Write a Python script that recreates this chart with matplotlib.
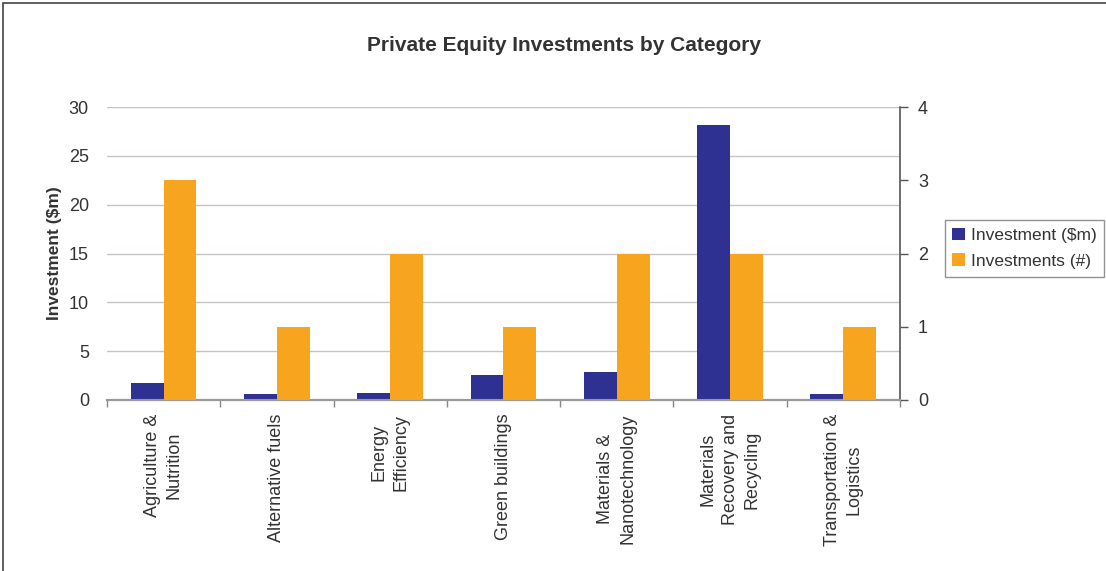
import matplotlib.pyplot as plt
from matplotlib.patches import Rectangle

plt.rcParams['font.family'] = ['Liberation Sans', 'DejaVu Sans']

categories = ['Agriculture &\nNutrition', 'Alternative fuels', 'Energy\nEfficiency',
              'Green buildings', 'Materials &\nNanotechnology',
              'Materials\nRecovery and\nRecycling', 'Transportation &\nLogistics']
investment_m = [1.7, 0.6, 0.7, 2.6, 2.9, 28.2, 0.6]
investment_n = [3, 1, 2, 1, 2, 2, 1]

blue = '#2E3192'
orange = '#F7A51E'
text_col = '#333333'

fig = plt.figure(figsize=(11.06, 5.71), dpi=100)
ax = fig.add_axes([0.0967, 0.2995, 0.717, 0.513])
ax2 = ax.twinx()

x = list(range(len(categories)))
w = 0.29
ax.bar([i - w / 2 for i in x], investment_m, width=w, color=blue,
       label='Investment ($m)', zorder=3)
ax2.bar([i + w / 2 for i in x], investment_n, width=w, color=orange,
        label='Investments (#)', zorder=3)

ax.set_xlim(-0.5, len(categories) - 0.5)
ax.set_ylim(0, 30)
ax2.set_ylim(0, 4)
ax.set_yticks(range(0, 31, 5))
ax2.set_yticks(range(0, 5))

ax.yaxis.grid(True, color='#C9C2C2', linewidth=1.0)
ax.set_axisbelow(True)

for a in (ax, ax2):
    for side in ('top', 'left', 'right'):
        a.spines[side].set_visible(False)
    a.spines['bottom'].set_color('#999999')
    a.spines['bottom'].set_linewidth(1.5)
ax2.spines['right'].set_visible(True)
ax2.spines['right'].set_color('#555555')
ax2.spines['right'].set_linewidth(1.2)

ax.tick_params(axis='y', length=0, pad=13, labelsize=13, labelcolor=text_col)
ax2.tick_params(axis='y', length=6, width=1, color='#555555', pad=7,
                labelsize=13, labelcolor=text_col)

# category labels on major ticks, tick marks between categories
ax.set_xticks(x)
ax.set_xticklabels(categories, rotation=90, ha='center', va='top',
                   multialignment='center', fontsize=13, color=text_col,
                   linespacing=1.35)
ax.set_xticks([i + 0.5 for i in range(-1, len(categories))], minor=True)
ax.tick_params(axis='x', which='major', length=0, pad=10)
ax.tick_params(axis='x', which='minor', length=5, width=1, color='#888888')

ax.set_ylabel('Investment ($m)', fontsize=12.5, fontweight='bold', color=text_col,
              labelpad=5)

fig.text(0.51, 0.92, 'Private Equity Investments by Category', ha='center',
         va='center', fontsize=15, fontweight='bold', color=text_col)

h1, l1 = ax.get_legend_handles_labels()
h2, l2 = ax2.get_legend_handles_labels()
leg = fig.legend(h1 + h2, l1 + l2, loc='upper left', bbox_to_anchor=(0.854, 0.615),
                 bbox_transform=fig.transFigure, fancybox=False, frameon=True,
                 edgecolor='#777777', fontsize=12.5, handlelength=0.75,
                 handleheight=0.75, handletextpad=0.3, borderaxespad=0,
                 labelspacing=0.6, borderpad=0.45)
leg.get_frame().set_linewidth(1.0)
for t in leg.get_texts():
    t.set_color(text_col)

# chart frame around the whole figure
fig.patches.append(Rectangle((0.003, -0.05), 1.2, 1.045, transform=fig.transFigure,
                             fill=False, edgecolor='#444444', linewidth=1.2))

fig.savefig('out.png', dpi=100)
